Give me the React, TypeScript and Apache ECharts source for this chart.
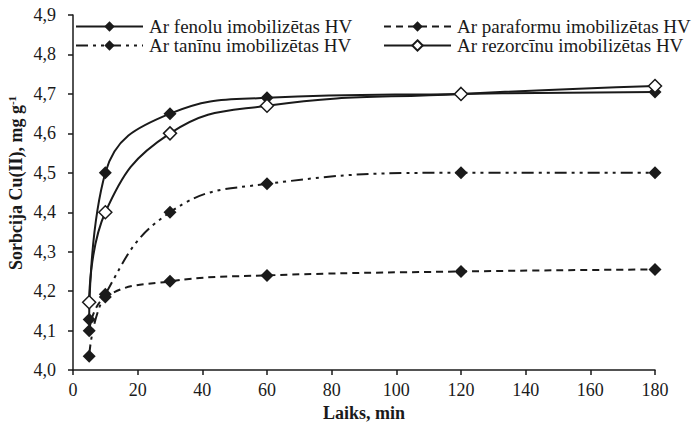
import React, { useEffect, useRef } from "react";
import * as echarts from "echarts";

const timesMin = [5, 10, 30, 60, 120, 180];
const fenoluValues = [4.128, 4.5, 4.65, 4.69, 4.7, 4.705];
const paraformuValues = [4.1, 4.185, 4.225, 4.24, 4.25, 4.255];
const taninuValues = [4.035, 4.192, 4.4, 4.472, 4.5, 4.5];
const rezorcinuValues = [4.172, 4.4, 4.6, 4.67, 4.7, 4.72];

const seriesNames = [
  "Ar fenolu imobilizētas HV",
  "Ar paraformu imobilizētas HV",
  "Ar tanīnu imobilizētas HV",
  "Ar rezorcīnu imobilizētas HV",
];

const FONT = '"Liberation Serif", "Times New Roman", serif';
const INK = "#1a1a1a";

const pairs = (ys: number[]) => timesMin.map((x, i) => [x, ys[i]]);

export default function App() {
  const ref = useRef<HTMLDivElement>(null);
  useEffect(() => {
    if (!ref.current) return;
    const chart = echarts.init(ref.current, null, { renderer: "svg" });
    const legendBase = {
      orient: "horizontal" as const,
      padding: 0,
      itemWidth: 67,
      itemHeight: 13,
      itemGap: 8,
      textStyle: { fontFamily: FONT, fontSize: 19, color: INK, padding: [0, 0, 0, 1] },
    };
    const mk = (
      name: string,
      data: number[],
      lineType: any,
      filled: boolean
    ) => ({
      name,
      type: "line",
      data: pairs(data),
      smooth: 0.45,
      symbol: "diamond",
      symbolSize: 13,
      lineStyle: { color: INK, width: 2, type: lineType },
      itemStyle: {
        color: filled ? INK : "#ffffff",
        borderColor: INK,
        borderWidth: filled ? 0 : 1.5,
      },
      z: filled ? 2 : 3,
    });
    chart.setOption({
      animation: false,
      backgroundColor: "#ffffff",
      grid: { left: 73, right: 40, top: 15, bottom: 55 },
      legend: [
        { ...legendBase, data: [seriesNames[0]], left: 75, top: 17 },
        { ...legendBase, data: [seriesNames[2]], left: 75, top: 36 },
        { ...legendBase, data: [seriesNames[1]], left: 383, top: 17 },
        { ...legendBase, data: [seriesNames[3]], left: 383, top: 36 },
      ],
      xAxis: {
        type: "value",
        min: 0,
        max: 180,
        interval: 20,
        name: "Laiks, min",
        nameLocation: "middle",
        nameGap: 30,
        nameTextStyle: { fontFamily: FONT, fontSize: 18, fontWeight: "bold", color: INK },
        axisLine: { lineStyle: { color: INK, width: 1.5 } },
        axisTick: { show: true, length: 5, inside: false, lineStyle: { color: INK, width: 1.5 } },
        axisLabel: { fontFamily: FONT, fontSize: 18, color: INK, margin: 11 },
        splitLine: { show: false },
      },
      yAxis: {
        type: "value",
        min: 4.0,
        max: 4.9,
        interval: 0.1,
        axisLine: { show: true, lineStyle: { color: INK, width: 1.5 } },
        axisTick: { show: true, length: 5, inside: false, lineStyle: { color: INK, width: 1.5 } },
        axisLabel: {
          fontFamily: FONT,
          fontSize: 18,
          color: INK,
          margin: 17,
          formatter: (v: number) => v.toFixed(1).replace(".", ","),
        },
        splitLine: { show: false },
      },
      graphic: [
        {
          type: "text",
          x: 16,
          y: 183,
          rotation: Math.PI / 2,
          style: {
            text: "{a|Sorbcija Cu(II), mg g}{b|-1}",
            align: "center",
            verticalAlign: "middle",
            rich: {
              a: { fontFamily: FONT, fontSize: 18, fontWeight: "bold", fill: INK },
              b: { fontFamily: FONT, fontSize: 11, fontWeight: "bold", fill: INK, verticalAlign: "top", padding: [0, 0, 9, 0] },
            },
          },
        },
      ],
      series: [
        mk(seriesNames[0], fenoluValues, "solid", true),
        mk(seriesNames[1], paraformuValues, [7, 5], true),
        mk(seriesNames[2], taninuValues, [12, 5, 3, 5, 3, 5], true),
        mk(seriesNames[3], rezorcinuValues, "solid", false),
      ],
    });
    return () => chart.dispose();
  }, []);
  return <div ref={ref} style={{ width: 695, height: 427, position: "absolute", left: 0, top: 0 }} />;
}
